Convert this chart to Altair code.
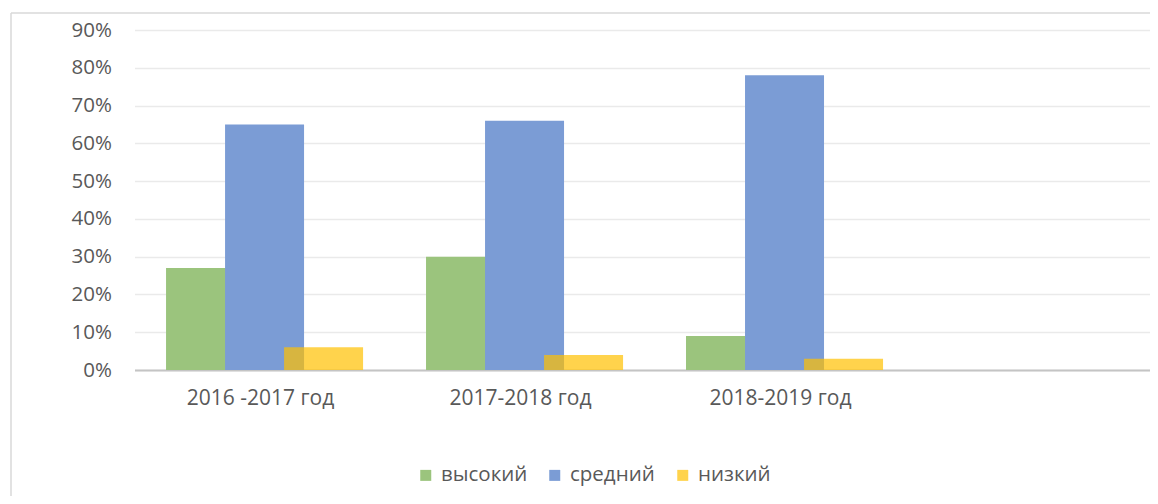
import altair as alt
import pandas as pd

years = ["2016 -2017 год", "2017-2018 год", "2018-2019 год"]
levels = ["высокий", "средний", "низкий"]
high = [0.27, 0.30, 0.09]
mid = [0.65, 0.66, 0.78]
low = [0.06, 0.04, 0.03]
colors = ["#9BC47D", "#7B9CD5", "rgba(255,192,0,0.7)"]
y_ticks = [0.0, 0.1, 0.2, 0.3, 0.4, 0.5, 0.6, 0.7, 0.8, 0.9]

rows = []
for i, yr in enumerate(years):
    for lv, vals in zip(levels, [high, mid, low]):
        rows.append({"year": yr, "level": lv, "value": vals[i]})
df = pd.DataFrame(rows)

x_domain = years + [" "]
FONT = "Open Sans"
TXT = "#595959"

bars = alt.Chart(df).mark_bar(width=79).encode(
    x=alt.X("year:N", sort=None,
            scale=alt.Scale(domain=x_domain, paddingInner=0.319, paddingOuter=0.1125, align=0.71),
            axis=alt.Axis(title=None, labelAngle=0, ticks=False, domainColor="#C4C4C4",
                          domainWidth=2, labelPadding=17, labelFontSize=21, labelOffset=-4,
                          labelColor=TXT, labelFont=FONT, grid=False)),
    xOffset=alt.XOffset("level:N", sort=levels,
                        scale=alt.Scale(domain=levels, paddingInner=0, paddingOuter=0)),
    y=alt.Y("value:Q", scale=alt.Scale(domain=[0, 0.9], nice=False),
            axis=alt.Axis(format=".0%", values=y_ticks, title=None, domain=False, ticks=False,
                          labelPadding=23, labelFontSize=20.5, labelColor=TXT, labelFont=FONT,
                          gridColor="#EAEAEA", gridWidth=1.5)),
    color=alt.Color("level:N", sort=levels,
                    scale=alt.Scale(domain=levels, range=colors),
                    legend=alt.Legend(title=None, orient="none", direction="horizontal",
                                      legendX=281, legendY=435,
                                      symbolType="square", symbolSize=121, symbolStrokeWidth=0,
                                      labelFontSize=20.5, labelColor=TXT, labelFont=FONT,
                                      labelOffset=5, columnPadding=17)),
)

frame_df = pd.DataFrame({"k": [0]})
left_rule = alt.Chart(frame_df).mark_rule(color="#D9D9D9", strokeWidth=1.5).encode(
    x=alt.value(-123.5), y=alt.value(-17), y2=alt.value(480))
top_rule = alt.Chart(frame_df).mark_rule(color="#D9D9D9", strokeWidth=1.5).encode(
    x=alt.value(-123.5), x2=alt.value(1020), y=alt.value(-17))

chart = alt.layer(bars, left_rule, top_rule).properties(
    width=1015.5, height=340,
    autosize=alt.AutoSizeParams(type="none"),
    padding={"left": 126.5, "top": 22, "right": 0, "bottom": 126},
    background="white",
).configure_view(stroke=None)

chart.save("out.html", embed_options={"renderer": "svg", "actions": False})
